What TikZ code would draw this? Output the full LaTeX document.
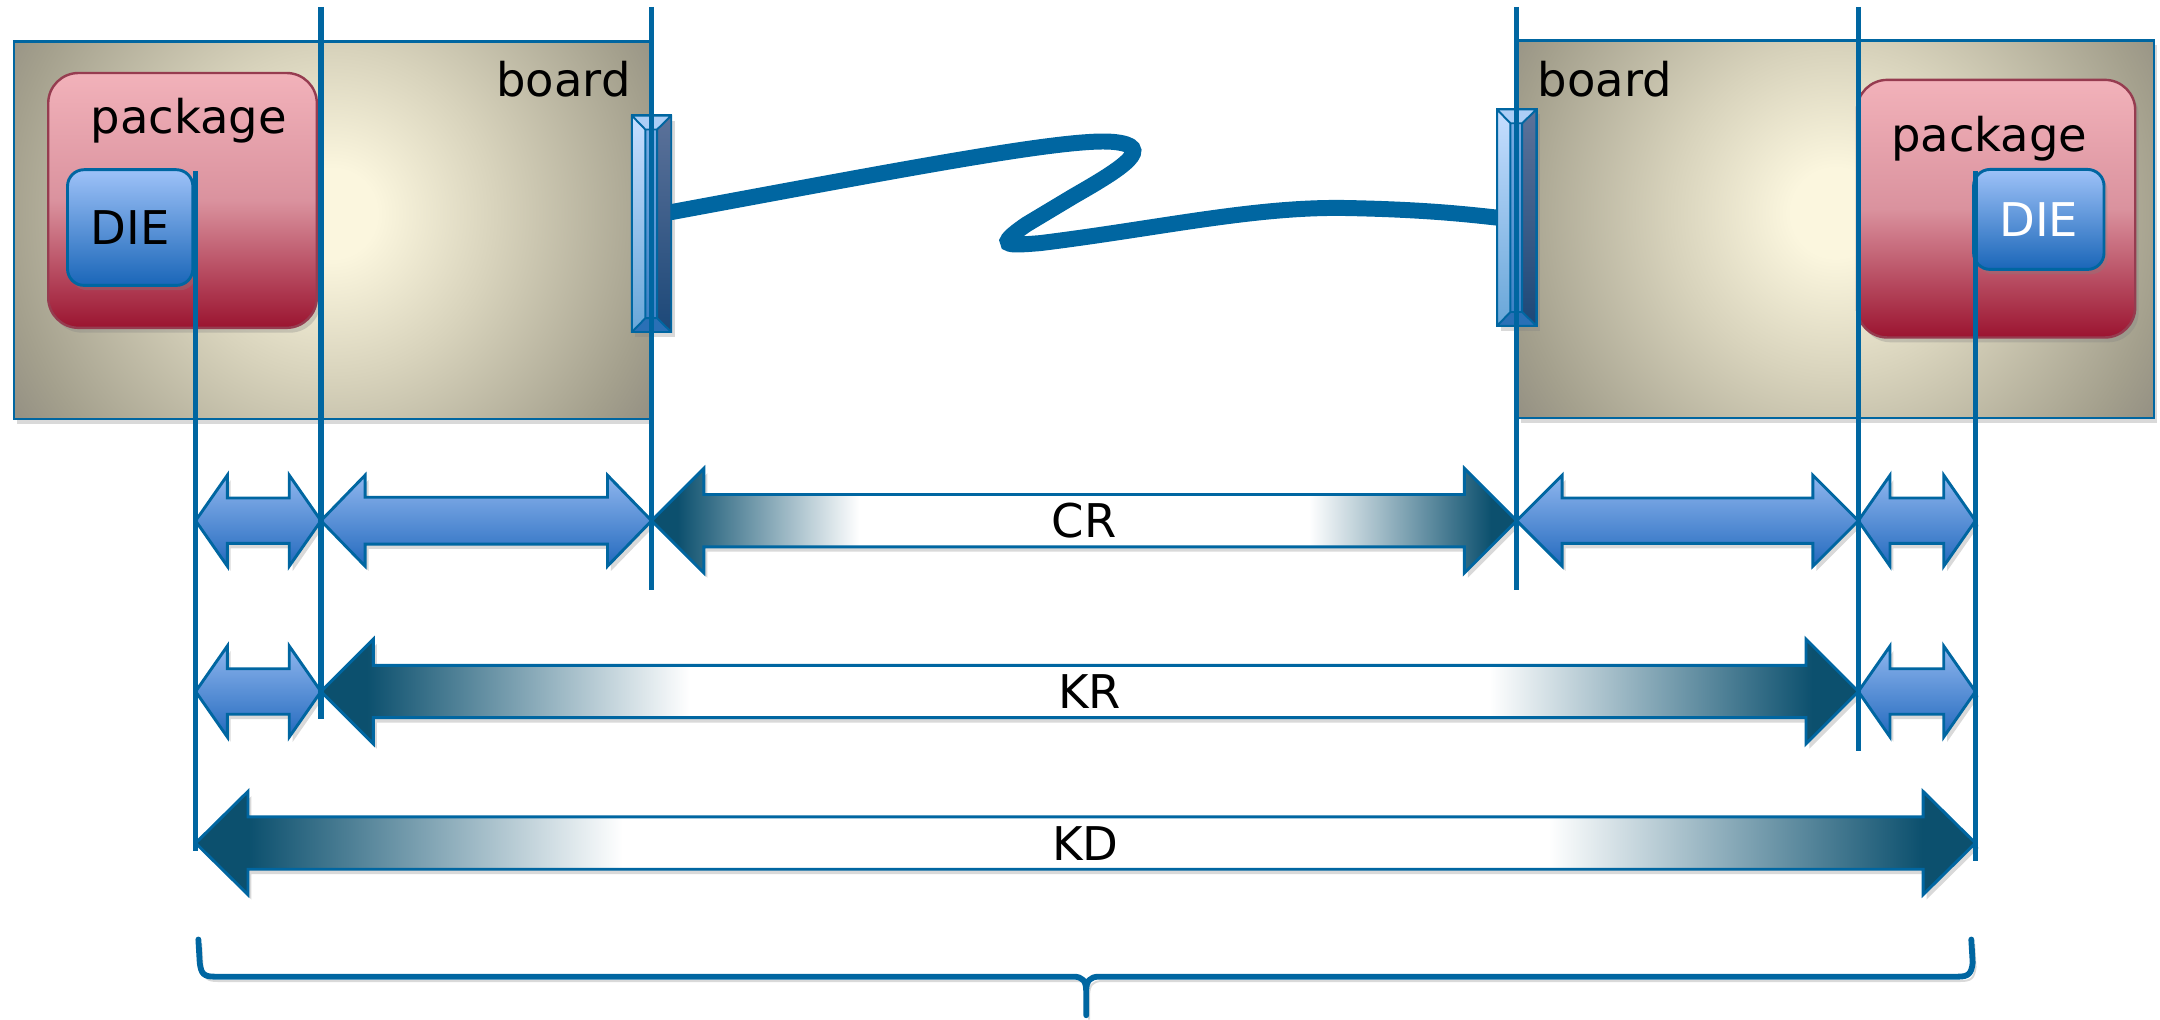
\documentclass[tikz,border=0pt]{standalone}
\usepackage{fontspec}
\setmainfont{DejaVu Sans}
\usetikzlibrary{calc,shadows}

\definecolor{guideblue}{RGB}{0,102,161}
\definecolor{boardlight}{RGB}{251,246,222}
\definecolor{boardmid}{RGB}{216,211,188}
\definecolor{boardlow}{RGB}{164,160,141}
\definecolor{boarddark}{RGB}{150,146,132}
\definecolor{pkgtop}{RGB}{242,178,186}
\definecolor{pkgmid}{RGB}{218,146,158}
\definecolor{pkgbottom}{RGB}{155,20,48}
\definecolor{pkgedge}{RGB}{150,60,80}
\definecolor{dietop}{RGB}{158,194,248}
\definecolor{diebottom}{RGB}{26,102,184}
\definecolor{arrowtop}{RGB}{143,182,238}
\definecolor{arrowbottom}{RGB}{36,106,190}
\definecolor{dimdark}{RGB}{12,80,110}
\definecolor{jacklight}{RGB}{198,222,255}
\definecolor{jacklightlow}{RGB}{104,166,216}
\definecolor{jackmid}{RGB}{120,172,228}
\definecolor{jackmidlow}{RGB}{62,130,198}
\definecolor{jackdark}{RGB}{92,114,154}
\definecolor{jackdarklow}{RGB}{28,72,120}
\definecolor{jackcap}{RGB}{172,206,246}
\definecolor{jackfoot}{RGB}{42,112,182}

% glow of the boards and fade of the long spans
\pgfdeclareradialshading{boardglow}{\pgfpoint{0bp}{0bp}}{%
  color(0bp)=(boardlight); color(3bp)=(boardlight); color(11bp)=(boardmid);
  color(22bp)=(boardlow); color(25bp)=(boarddark); color(50bp)=(boarddark)}
\pgfdeclarehorizontalshading{spanfade}{100bp}{%
  color(0bp)=(dimdark); color(26.5bp)=(dimdark); color(37bp)=(white);
  color(63bp)=(white); color(73.5bp)=(dimdark); color(100bp)=(dimdark)}

% double block arrow: style, from, to, half shaft, half head, head length
\newcommand{\blockspan}[6]{%
  \path[#1] let \p1=(#2), \p2=(#3) in
    (\x1,\y1) -- (\x1+#6,\y1+#5) -- (\x1+#6,\y1+#4) -- (\x2-#6,\y1+#4)
    -- (\x2-#6,\y1+#5) -- (\x2,\y1) -- (\x2-#6,\y1-#5) -- (\x2-#6,\y1-#4)
    -- (\x1+#6,\y1-#4) -- (\x1+#6,\y1-#5) -- cycle;}

% bevelled faces of a connector node
\newcommand{\jackface}[1]{%
  \coordinate (#1 ta) at ($(#1.north west)!0.34!(#1.north east)+(0,-0.1)$);
  \coordinate (#1 tb) at ($(#1.north west)!0.64!(#1.north east)+(0,-0.1)$);
  \coordinate (#1 ba) at ($(#1.south west)!0.34!(#1.south east)+(0,0.1)$);
  \coordinate (#1 bb) at ($(#1.south west)!0.64!(#1.south east)+(0,0.1)$);
  \fill[top color=jacklight, bottom color=jacklightlow] (#1.north west) -- (#1 ta) -- (#1 ba) -- (#1.south west) -- cycle;
  \fill[top color=jackmid, bottom color=jackmidlow] (#1 ta) rectangle (#1 bb);
  \fill[top color=jackdark, bottom color=jackdarklow] (#1.north east) -- (#1 tb) -- (#1 bb) -- (#1.south east) -- cycle;
  \fill[jackcap] (#1.north west) -- (#1.north east) -- (#1 tb) -- (#1 ta) -- cycle;
  \fill[jackfoot] (#1.south west) -- (#1.south east) -- (#1 bb) -- (#1 ba) -- cycle;
  \draw[guideblue, line width=0.4pt] (#1.north west) -- (#1 ta) -- (#1 ba) -- (#1.south west)
    (#1.north east) -- (#1 tb) -- (#1 bb) -- (#1.south east)
    (#1 ta) -- (#1 tb) (#1 ba) -- (#1 bb)
    (#1.north west) rectangle (#1.south east);}

\begin{document}
\begin{tikzpicture}[
    every node/.style={font=\fontsize{9.6}{11.5}\selectfont},
    softshadow/.style={drop shadow={opacity=0.3, shadow xshift=0.025cm, shadow yshift=-0.035cm}},
    lineshadow/.style={preaction={draw=black, opacity=0.15, transform canvas={xshift=0.6pt, yshift=-0.9pt}}},
    board/.style={rectangle, draw=guideblue, line width=0.5pt, fill=boarddark, inner sep=0pt,
        minimum width=4.62cm, minimum height=2.74cm, softshadow,
        path picture={\shade[shading=boardglow] ([yshift=0.12cm]path picture bounding box.center) circle (2.7cm);}},
    pkg/.style={rectangle, rounded corners=0.22cm, draw=pkgedge, line width=0.5pt,
        top color=pkgtop, bottom color=pkgbottom, middle color=pkgmid, inner sep=0pt, softshadow},
    die/.style={rectangle, rounded corners=0.12cm, draw=guideblue, line width=0.6pt,
        top color=dietop, bottom color=diebottom, inner sep=0pt, softshadow},
    jack/.style={rectangle, draw=guideblue, line width=0.5pt, fill=jacklight, inner sep=0pt, outer sep=0pt,
        minimum width=0.285cm, minimum height=1.57cm, softshadow},
    guide/.style={draw=guideblue, line width=1.1pt},
    cable/.style={draw=guideblue, line width=3.3pt, line cap=round, lineshadow},
    bluespan/.style={draw=guideblue, line width=0.6pt, top color=arrowtop, bottom color=arrowbottom, softshadow},
    fadespan/.style={draw=guideblue, line width=0.6pt, shading=spanfade, softshadow},
    brace/.style={draw=guideblue, line width=1.2pt, line cap=round, line join=round, lineshadow}
]
\useasboundingbox (0,0) rectangle (15.68,-7.40);

% boards with their packages and dies
\node[board] (boardL) at (2.41,-1.67) {};
\node[board] (boardR) at (13.325,-1.665) {};
\node[anchor=base] (boardLtext) at (4.09,-0.70) {board};
\node[anchor=base] (boardRtext) at (11.65,-0.70) {board};

\node[pkg, minimum width=1.95cm, minimum height=1.85cm] (pkgL) at (1.325,-1.455) {};
\node[pkg, minimum width=2.02cm, minimum height=1.87cm] (pkgR) at (14.49,-1.515) {};
\node[anchor=base] (pkgLtext) at (1.37,-0.97) {package};
\node[anchor=base] (pkgRtext) at (14.44,-1.10) {package};

\node[die, minimum width=0.91cm, minimum height=0.84cm] (dieL) at (0.945,-1.652) {DIE};
\node[die, minimum width=0.947cm, minimum height=0.726cm, text=white] (dieR) at (14.80,-1.593) {DIE};

% cable between the two connectors
\node[jack] (jackL) at (4.73,-1.625) {};
\node[jack] (jackR) at (11.01,-1.58) {};
\draw[cable] ([yshift=0.085cm]jackL.east)
    .. controls (6.6,-1.22) and (7.75,-1.00) .. (8.08,-1.03)
    .. controls (8.40,-1.06) and (8.15,-1.22) .. (7.80,-1.42)
    -- (7.45,-1.63)
    .. controls (7.22,-1.79) and (7.30,-1.785) .. (7.55,-1.765)
    .. controls (8.4,-1.66) and (9.1,-1.50) .. (9.76,-1.51)
    .. controls (10.3,-1.52) and (10.6,-1.55) .. (jackR.west);
\jackface{jackL}
\jackface{jackR}

% reference lines
\coordinate (gAtop) at (1.42,-1.24);   \coordinate (gAbot) at (1.42,-6.18);
\coordinate (gBtop) at (2.33,-0.05);   \coordinate (gBbot) at (2.33,-5.22);
\coordinate (gCtop) at (4.73,-0.05);   \coordinate (gCbot) at (4.73,-4.28);
\coordinate (gDtop) at (11.01,-0.05);  \coordinate (gDbot) at (11.01,-4.28);
\coordinate (gEtop) at (13.49,-0.05);  \coordinate (gEbot) at (13.49,-5.45);
\coordinate (gFtop) at (14.34,-1.24);  \coordinate (gFbot) at (14.34,-6.25);

\coordinate (row1) at (0,-3.78);
\coordinate (row2) at (0,-5.02);
\coordinate (row3) at (0,-6.12);

% first row
\blockspan{bluespan}{gAtop |- row1}{gBtop |- row1}{0.165cm}{0.33cm}{0.23cm}
\blockspan{bluespan}{gBtop |- row1}{gCtop |- row1}{0.17cm}{0.33cm}{0.32cm}
\blockspan{fadespan}{gCtop |- row1}{gDtop |- row1}{0.19cm}{0.38cm}{0.38cm}
\blockspan{bluespan}{gDtop |- row1}{gEtop |- row1}{0.165cm}{0.33cm}{0.33cm}
\blockspan{bluespan}{gEtop |- row1}{gFtop |- row1}{0.165cm}{0.33cm}{0.23cm}

% second row
\blockspan{bluespan}{gAtop |- row2}{gBtop |- row2}{0.165cm}{0.33cm}{0.23cm}
\blockspan{fadespan}{gBtop |- row2}{gEtop |- row2}{0.19cm}{0.38cm}{0.38cm}
\blockspan{bluespan}{gEtop |- row2}{gFtop |- row2}{0.165cm}{0.33cm}{0.23cm}

% third row
\blockspan{fadespan}{gAtop |- row3}{gFtop |- row3}{0.19cm}{0.375cm}{0.38cm}

\foreach \g in {gA,gB,gC,gD,gE,gF}
    \draw[guide] (\g top) -- (\g bot);

\node (crlabel) at ($(gCtop |- row1)!0.5!(gDtop |- row1)$) {CR};
\node (krlabel) at ($(gBtop |- row2)!0.5!(gEtop |- row2)$) {KR};
\node (kdlabel) at ($(gAtop |- row3)!0.5!(gFtop |- row3)$) {KD};

% brace under the whole span
\draw[brace] (1.44,-6.82) -- (1.45,-6.99) .. controls (1.46,-7.07) and (1.48,-7.09) .. (1.56,-7.09)
    -- (7.79,-7.09) .. controls (7.86,-7.09) and (7.885,-7.12) .. (7.885,-7.20) -- (7.885,-7.37)
    -- (7.885,-7.20) .. controls (7.885,-7.12) and (7.91,-7.09) .. (7.98,-7.09)
    -- (14.21,-7.09) .. controls (14.29,-7.09) and (14.31,-7.07) .. (14.32,-6.99) -- (14.31,-6.82);

\end{tikzpicture}
\end{document}
